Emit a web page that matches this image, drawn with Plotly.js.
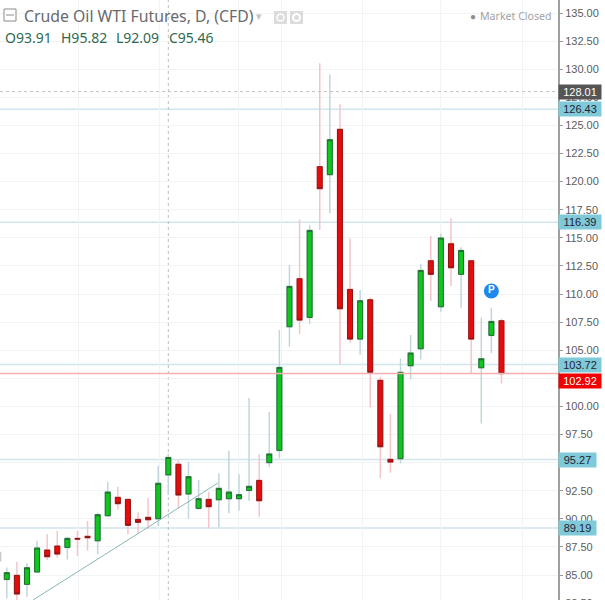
<!DOCTYPE html>
<html>
<head>
<meta charset="utf-8">
<script src="https://cdn.plot.ly/plotly-3.0.1.min.js"></script>
<style>
html, body { margin: 0; padding: 0; background: #fff; overflow: hidden; }
</style>
</head>
<body>
<div id="chart"></div>
<script>
const opens = [84.61, 84.97, 84.17, 85.27, 87.22, 87.58, 87.46, 88.26, 88.44, 88.05,
    90.28, 91.91, 91.73, 89.95, 90.13, 90.01, 93.91, 94.85, 92.21, 90.93,
    91.73, 91.70, 91.79, 91.79, 92.53, 93.42, 95.00, 96.09, 107.09, 111.36,
    107.92, 121.33, 120.62, 124.65, 110.41, 105.99, 109.49, 102.32, 95.29, 95.35,
    103.62, 105.13, 112.96, 108.87, 114.47, 111.75, 112.96, 103.44, 106.32, 107.62];
const highs = [85.68, 86.19, 86.04, 88.05, 88.62, 88.94, 88.41, 88.91, 89.80, 90.55,
    93.30, 92.86, 91.79, 90.58, 91.85, 94.73, 95.82, 95.23, 95.08, 93.45,
    92.41, 94.05, 96.06, 93.96, 100.75, 95.74, 99.50, 106.80, 112.58, 116.64,
    116.14, 130.52, 129.54, 126.88, 114.95, 110.35, 109.70, 102.64, 99.32, 104.27,
    106.35, 112.67, 115.16, 115.39, 116.73, 114.15, 113.02, 107.92, 108.78, 107.80];
const lows = [82.92, 82.70, 83.07, 85.20, 86.33, 86.54, 86.39, 86.69, 87.16, 86.84,
    90.19, 90.84, 88.62, 88.71, 89.15, 89.36, 92.09, 90.93, 90.04, 90.84,
    89.15, 89.24, 90.49, 90.72, 91.58, 90.19, 94.58, 95.38, 105.31, 106.44,
    107.30, 115.70, 117.18, 103.74, 105.67, 104.57, 99.91, 93.60, 94.10, 94.93,
    102.40, 104.18, 109.37, 108.43, 110.71, 108.78, 102.94, 98.49, 104.72, 102.05];
const closes = [85.21, 83.31, 85.65, 87.40, 86.63, 86.87, 88.26, 88.20, 88.32, 90.37,
    92.38, 91.35, 89.42, 89.69, 89.92, 93.16, 95.46, 92.12, 93.75, 91.79,
    91.08, 92.71, 92.38, 92.15, 92.89, 91.61, 95.77, 103.47, 110.68, 107.68,
    115.66, 119.37, 123.73, 108.69, 105.99, 109.40, 103.03, 96.41, 95.05, 103.03,
    104.75, 112.10, 111.75, 114.98, 112.34, 113.88, 105.99, 104.24, 107.56, 102.92];
const days = opens.map((_, i) => i);

const levels = [126.43, 116.39, 103.72, 95.27, 89.19];
const lastPrice = 102.92;
const prevMark = 128.01;
const crossDay = 16;
const monthDays = [7.15, 15.1, 23, 27.2, 35.2, 43, 51.1];
const trendX = [2.6, 20.9];
const trendY = [82.78, 93.18];
const edgeX = [-0.62, -0.62];
const edgeY = [86.2, 87.07];
const noteDay = [48];
const notePrice = [110.27];
const ohlcLabels = ['O93.91', 'H95.82', 'L92.09', 'C95.46'];
const ohlcLeft = [3, 59, 113.5, 166.5];

const PLOT_W = 558;
const PLOT_H = 620;
const px = (x) => x / PLOT_W;
const py = (y) => 1 - y / PLOT_H;

const GREEN = '#0fc61e', GREEN_LINE = '#1f6d2c', GREEN_WICK = '#c3d6dc';
const RED = '#e60c0c', RED_LINE = '#8e1414', RED_WICK = '#f5c4cb';

const trend = {
    x: trendX, y: trendY, type: 'scatter', mode: 'lines',
    line: {color: '#86b9b6', width: 1}, hoverinfo: 'skip',
};
const edgeWick = {
    x: edgeX, y: edgeY, type: 'scatter', mode: 'lines',
    line: {color: '#c9c9c9', width: 1.5}, hoverinfo: 'skip',
};
// wicks only get the pale colour, the bodies go on top without wicks
const wicks = {
    x: days, open: opens, high: highs, low: lows, close: closes,
    type: 'candlestick',
    increasing: {line: {color: GREEN_WICK, width: 1.5}, fillcolor: GREEN_WICK},
    decreasing: {line: {color: RED_WICK, width: 1.5}, fillcolor: RED_WICK},
};
const bodies = {
    x: days, open: opens, close: closes,
    high: days.map((i) => Math.max(opens[i], closes[i])),
    low: days.map((i) => Math.min(opens[i], closes[i])),
    type: 'candlestick',
    increasing: {line: {color: GREEN_LINE, width: 1}, fillcolor: GREEN},
    decreasing: {line: {color: RED_LINE, width: 1}, fillcolor: RED},
};
const note = {
    x: noteDay, y: notePrice, type: 'scatter', mode: 'markers+text',
    marker: {size: 15, color: '#1e88ee'},
    text: ['<b>P</b>'], textposition: 'middle center',
    textfont: {family: 'Liberation Sans', size: 10, color: '#fff'},
    hoverinfo: 'skip',
};

const shapes = levels.map((v) => ({
    type: 'line', xref: 'paper', x0: 0, x1: 1, yref: 'y', y0: v, y1: v,
    line: {color: '#cfe6ec', width: 1.5}, layer: 'below',
}));
shapes.push({type: 'line', xref: 'paper', x0: 0, x1: 1, yref: 'y', y0: lastPrice, y1: lastPrice,
    line: {color: '#f7aeb0', width: 1.5}});
shapes.push({type: 'line', xref: 'paper', x0: 0, x1: 1, yref: 'y', y0: prevMark, y1: prevMark,
    line: {color: '#c0c0c0', width: 1, dash: '3px,3px'}});
shapes.push({type: 'line', xref: 'x', x0: crossDay, x1: crossDay, yref: 'paper', y0: 0, y1: 1,
    line: {color: '#bdbdbd', width: 1, dash: '3px,3px'}, layer: 'below'});
// header icons
function box(x0, y0, x1, y1, style, kind) {
    return {type: kind || 'rect', xref: 'paper', yref: 'paper', x0: px(x0), x1: px(x1), y0: py(y0), y1: py(y1), ...style};
}
shapes.push(box(4, 9, 16, 21, {line: {color: '#8a8a8a', width: 1}, fillcolor: '#fff'}));
shapes.push({type: 'line', xref: 'paper', yref: 'paper', x0: px(6), x1: px(14), y0: py(15), y1: py(15),
    line: {color: '#8a8a8a', width: 1}});
shapes.push(box(274, 11, 287, 24, {line: {width: 0}, fillcolor: '#dcdcdc'}));
shapes.push(box(290, 11, 303, 24, {line: {width: 0}, fillcolor: '#dcdcdc'}));
shapes.push(box(277, 14, 284, 21, {line: {color: '#fff', width: 1.5}, fillcolor: 'rgba(0,0,0,0)'}, 'circle'));
shapes.push(box(293, 14, 300, 21, {line: {color: '#fff', width: 2}, fillcolor: 'rgba(0,0,0,0)'}, 'circle'));

const SANS = 'Liberation Sans, Arial, sans-serif';
const HEAD = 'Noto Sans, sans-serif';

function priceTag(v, bg, color, shift) {
    // five digit prices get a narrower tag
    const wide = v >= 100;
    return {
        xref: 'paper', yref: 'y', x: 1, y: v, xanchor: 'left', yanchor: 'middle',
        yshift: shift || 0, text: v.toFixed(2), showarrow: false, bgcolor: bg,
        width: wide ? 42 : 37, height: 14, borderpad: 0, align: 'center',
        font: {family: SANS, size: 11, color: color},
    };
}
function headText(text, x, y, size, color, family) {
    return {
        xref: 'paper', yref: 'paper', x: px(x), y: py(y), xanchor: 'left', yanchor: 'middle',
        text: text, showarrow: false, font: {family: family || HEAD, size: size, color: color},
    };
}

const annotations = levels.map((v) => priceTag(v, '#7fc9d9', '#223'));
annotations.push(priceTag(prevMark, '#555555', '#fff'));
annotations.push(priceTag(lastPrice, '#f00000', '#fff', -7.5));
annotations.push(headText('Crude Oil WTI Futures, D, (CFD)', 22, 16, 15.8, '#6a6a6a'));
annotations.push(headText('▾', 254, 16, 11, '#c4c4c4'));
annotations.push(headText('Market Closed', 478, 16, 10.6, '#a2a2a2'));
annotations.push(headText('●', 468, 15.5, 10, '#8e8e8e'));
ohlcLabels.forEach((t, i) => annotations.push(headText(t, ohlcLeft[i], 37, 14, '#2f6a50')));

const layout = {
    width: 605, height: PLOT_H,
    margin: {l: 0, r: 47, t: 0, b: 0},
    paper_bgcolor: '#fff', plot_bgcolor: '#fff',
    showlegend: false,
    xaxis: {
        type: 'linear', range: [-0.673, 54.6], rangeslider: {visible: false},
        tickmode: 'array', tickvals: monthDays, showticklabels: false, ticks: '',
        showgrid: true, gridcolor: '#f1f4f6', gridwidth: 1, zeroline: false, showline: false,
    },
    yaxis: {
        side: 'right', range: [81.0, 136.157], dtick: 2.5, tick0: 0, tickformat: '.2f',
        ticks: 'outside', ticklen: 3, tickcolor: '#999', tickwidth: 1,
        showline: true, linecolor: '#a0a0a0', linewidth: 2,
        showgrid: true, gridcolor: '#f1f4f6', gridwidth: 1, zeroline: false,
        tickfont: {family: SANS, size: 11, color: '#5c5c5c'},
    },
    shapes: shapes,
    annotations: annotations,
};

Plotly.newPlot('chart', [trend, edgeWick, wicks, bodies, note], layout, {displayModeBar: false, staticPlot: true});
</script>
</body>
</html>
